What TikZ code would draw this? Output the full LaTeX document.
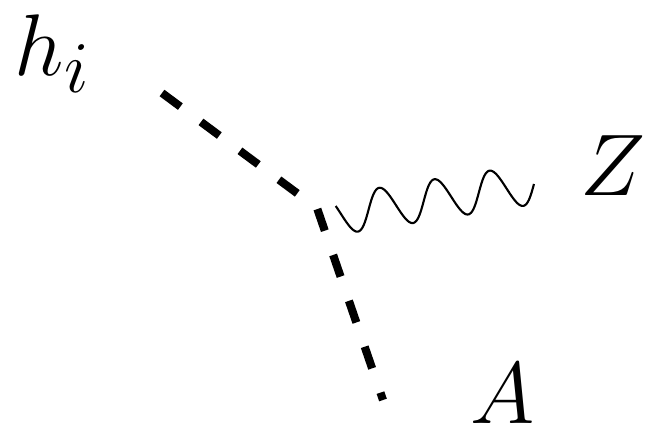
\documentclass[tikz,border=0pt]{standalone}
\begin{document}
\begin{tikzpicture}[x=0.01cm, y=-0.01cm,
  every node/.style={font=\Huge, inner sep=0pt},
  scalar/.style={line width=2.3pt, dash pattern=on 6.5pt off 7.3pt},
  photon/.style={line width=0.6pt},
]
\useasboundingbox (0,0) rectangle (651,433);
\coordinate (hin) at (162,93);
\coordinate (vtx) at (317,208);
\coordinate (aout) at (383,400);
\coordinate (zstart) at (341,214);

\node[anchor=base west] (hlab) at (14,75) {$h_i$};
\node[anchor=base west] (zlab) at (580,195) {$Z$};
\node[anchor=base west] (alab) at (470,423) {$A$};

% scalar lines
\draw[scalar] (hin) -- (vtx) -- (aout);
% gauge boson
\begin{scope}[shift={(zstart)}, rotate=8.84]
\draw[photon] plot[domain=-4:195.3, samples=160, smooth] (\x, {20*sin(\x/55.8*360)});
\end{scope}
\end{tikzpicture}
\end{document}
